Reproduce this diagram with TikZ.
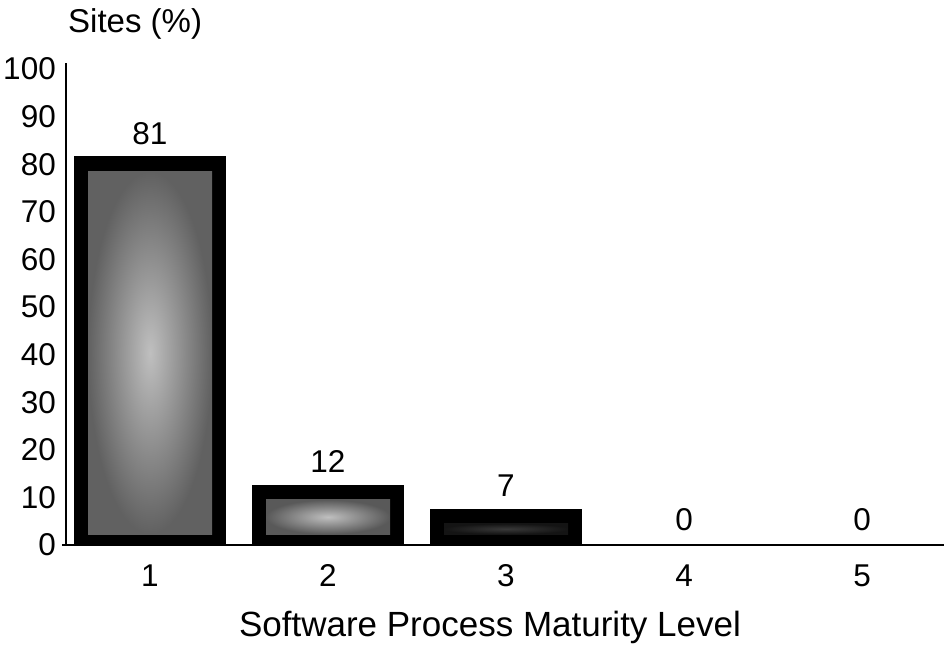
\documentclass[tikz,border=0pt]{standalone}
\usepackage{fontspec}
\setmainfont{Liberation Sans}
\usetikzlibrary{positioning}
\tikzset{
      numlab/.style={
        font=\fontsize{31.5}{36}\selectfont,
        inner sep=0pt
      },
      barframe/.style={
        fill=black
      },
      axisline/.style={
        draw=black,
        line width=2pt
      }
    }

\begin{document}
\begin{tikzpicture}[x=1pt,y=1pt]
    \useasboundingbox (-66,-106) rectangle (878,545);
    % bars: level / percent / centre shade / edge shade
    \foreach \lev/\pct/\lite/\dark in {1/81/25/62, 2/12/25/65, 3/7/78/92}{
      \pgfmathsetmacro{\cx}{84+178*(\lev-1)}
      \pgfmathsetmacro{\top}{\pct*4.76+3}
      \fill[barframe] ({\cx-76},0) rectangle ({\cx+76},\top);
      \shade[inner color=black!\lite, outer color=black!\dark]
        ({\cx-62},11) rectangle ({\cx+62},{\top-15});
    }
    \draw[axisline] (0,0) -- (0,482);
    \draw[axisline, line width=2.6pt] (-4,0) -- (878,0);
    % tick labels
    \foreach \v in {0,10,...,100}
      \node[numlab, anchor=east] (tick\v) at (-10,{\v*4.76}) {\v};
    % values above bars and level labels below
    \foreach \lev/\pct in {1/81, 2/12, 3/7, 4/0, 5/0}{
      \node[numlab, anchor=base] (val\lev) at ({84+178*(\lev-1)},{\pct*4.76+15}) {\pct};
      \node[numlab, anchor=base] (lev\lev) at ({84+178*(\lev-1)},-41) {\lev};
    }
    \node[anchor=base west, inner sep=0pt, font=\fontsize{33}{38}\selectfont] (ylab) at (2,512) {Sites (\%)};
    \node[anchor=base, inner sep=0pt, font=\fontsize{35}{40}\selectfont] (xlab) at (424,-91) {Software Process Maturity Level};
    \end{tikzpicture}
\end{document}
